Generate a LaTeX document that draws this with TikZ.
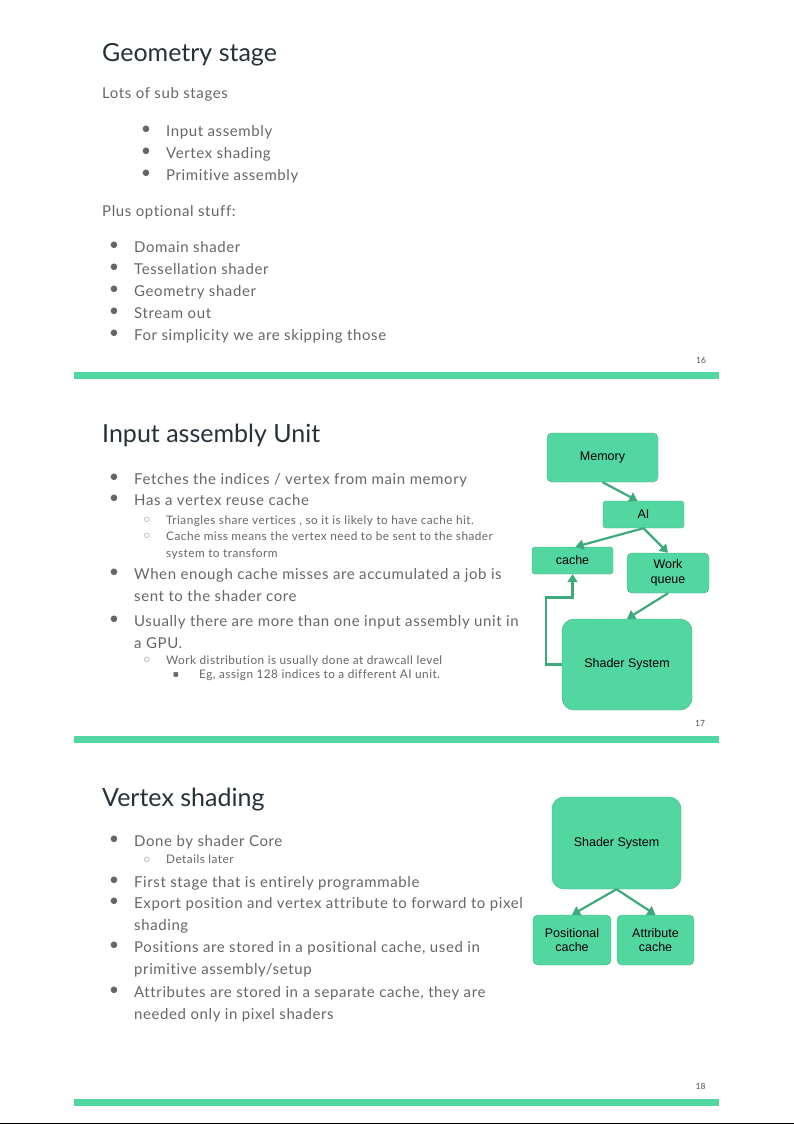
\documentclass[tikz,border=0pt]{standalone}
\usepackage{fontspec}
\setmainfont{Lato}[Ligatures=NoCommon]
\newfontfamily\bodyfont{Lato}[Ligatures=NoCommon, LetterSpace=4]
\newfontfamily\boxfont{Liberation Sans}
\newfontfamily\dotfont{DejaVu Sans}
\usetikzlibrary{arrows.meta, positioning, calc}
\usepackage{xcolor}
\definecolor{slidegreen}{HTML}{53D7A1}
\definecolor{boxedge}{HTML}{3FAF82}
\definecolor{arrowgreen}{HTML}{3DAA7C}
\definecolor{bodygray}{HTML}{666666}
\definecolor{titlegray}{HTML}{263238}

\begin{document}
\begin{tikzpicture}[%
    x=1pt, y=-1pt,
    every node/.style = {inner sep=0pt},
    title/.style = {anchor=base west, text=titlegray, font=\fontsize{25}{30}\selectfont},
    body/.style = {anchor=base west, text=bodygray, font=\bodyfont\fontsize{15}{18}\selectfont},
    sub/.style = {anchor=base west, text=bodygray, font=\bodyfont\fontsize{11.8}{14}\selectfont},
    dot/.style = {text=bodygray, font=\dotfont\fontsize{8.5}{10}\selectfont},
    ring/.style = {text=bodygray, font=\dotfont\fontsize{6.5}{8}\selectfont},
    square/.style = {text=bodygray, font=\dotfont\fontsize{6}{8}\selectfont},
    pagenum/.style = {text=bodygray!80!black, font=\fontsize{8.5}{10}\selectfont},
    box/.style = {draw=boxedge, fill=slidegreen, rounded corners=5pt, align=center,
        font=\boxfont\fontsize{12.5}{14.5}\selectfont},
    flow/.style = {draw=arrowgreen, line width=2.2pt, -{Triangle[length=8pt, width=10pt]}}
]
\useasboundingbox (0,0) rectangle (794,1124);

% slide 16
\node (geomtitle) [title] at (102,62) {Geometry stage};
\node (lots) [body] at (102,99) {Lots of sub stages};
\foreach \y/\t [count=\i] in {136/{Input assembly}, 158/{Vertex shading}, 180/{Primitive assembly}} {
    \node (stdot\i) [dot] at (146,\y-6.5) {●};
    \node (st\i) [body] at (166,\y) {\t};
}
\node (plus) [body] at (102,216) {Plus optional stuff:};
\foreach \y/\t [count=\i] in {252/{Domain shader}, 274/{Tessellation shader}, 296/{Geometry shader},
        318/{Stream out}, 340/{For simplicity we are skipping those}} {
    \node (optdot\i) [dot] at (114,\y-6.5) {●};
    \node (opt\i) [body] at (134,\y) {\t};
}
\node (num16) [pagenum] at (701,360) {16};
\fill [slidegreen] (74,372) rectangle (719,378.5);

% slide 17
\node (iatitle) [title] at (102,442) {Input assembly Unit};
\foreach \y/\t [count=\i] in {484/{Fetches the indices / vertex from main memory},
        505/{Has a vertex reuse cache},
        579/{When enough cache misses are accumulated a job is},
        601/{sent to the shader core},
        626/{Usually there are more than one input assembly unit in},
        648/{a GPU.}}
    \node (ia\i) [body] at (134,\y) {\t};
\foreach \y [count=\i] in {484,505,579,626}
    \node (iadot\i) [dot] at (114,\y-6.5) {●};
\foreach \y/\t [count=\i] in {524/{Triangles share vertices , so it is likely to have cache hit.},
        540/{Cache miss means the vertex need to be sent to the shader},
        557/{system to transform},
        664/{Work distribution is usually done at drawcall level}}
    \node (iasub\i) [sub] at (166,\y) {\t};
\foreach \y [count=\i] in {524,540,664}
    \node (iaring\i) [ring] at (147,\y-4) {○};
\node (iasq) [square] at (176,675) {■};
\node (iaeg) [sub] at (199,678.5) {Eg, assign 128 indices to a different AI unit.};

\node (mem) [box, minimum width=111, minimum height=49] at (602.5,457.5) {Memory};
\node (ai) [box, minimum width=81, minimum height=27, rounded corners=3pt] at (643.5,514.5) {AI};
\node (cache) [box, minimum width=81, minimum height=27, rounded corners=3pt] at (572.5,560.5) {cache};
\node (wq) [box, minimum width=82, minimum height=40] at (668,573) {Work\\queue};
\node (shader) [box, minimum width=130, minimum height=91, rounded corners=12pt] at (627,664.5) {Shader System};
\path [flow] (mem.south) -- ([xshift=-6]ai.north);
\path [flow] (ai.south) -- ([xshift=3]cache.north);
\path [flow] (ai.south) -- (wq.north);
\path [flow] (wq.south) -- (shader.north);
\path [flow] (shader.west) -| ++(-16,-67) -| (cache.south);
\node (num17) [pagenum] at (700,723) {17};
\fill [slidegreen] (74,736) rectangle (719,742.5);

% slide 18
\node (vstitle) [title] at (102,806) {Vertex shading};
\foreach \y/\t [count=\i] in {846/{Done by shader Core},
        887/{First stage that is entirely programmable},
        908/{Export position and vertex attribute to forward to pixel},
        930/{shading},
        952/{Positions are stored in a positional cache, used in},
        974/{primitive assembly/setup},
        997/{Attributes are stored in a separate cache, they are},
        1019/{needed only in pixel shaders}}
    \node (vs\i) [body] at (134,\y) {\t};
\foreach \y [count=\i] in {846,887,908,952,997}
    \node (vsdot\i) [dot] at (114,\y-6.5) {●};
\node (vsring) [ring] at (147,859.5) {○};
\node (vssub) [sub] at (166,863.5) {Details later};

\node (core) [box, minimum width=129, minimum height=92, rounded corners=12pt] at (616.5,843) {Shader System};
\node (pos) [box, minimum width=78, minimum height=50] at (572,940) {Positional\\cache};
\node (attr) [box, minimum width=77, minimum height=50] at (655.5,940) {Attribute\\cache};
\path [flow] (core.south) -- (pos.north);
\path [flow] (core.south) -- (attr.north);
\node (num18) [pagenum] at (700.5,1086) {18};
\fill [slidegreen] (74,1099) rectangle (719,1105.5);
\draw [line width=1.5pt] (0,1123.25) -- (794,1123.25);
\end{tikzpicture}
\end{document}
